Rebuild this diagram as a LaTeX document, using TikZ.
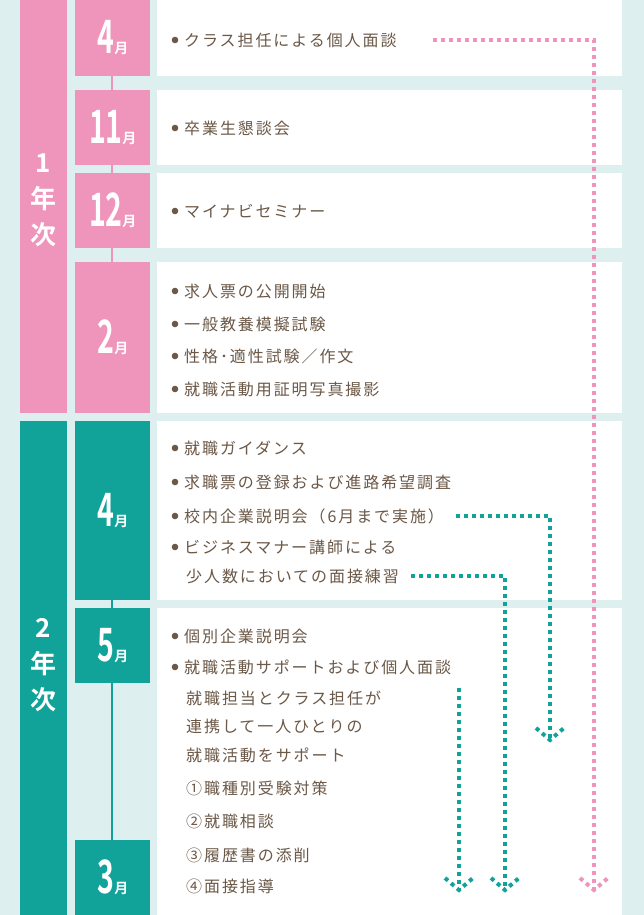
\documentclass[tikz,border=0pt]{standalone}
\usepackage{fontspec}
\setmainfont{Noto Sans CJK JP}[LetterSpace=12,BoldFont={Noto Sans CJK JP Bold}]
\usetikzlibrary{positioning}
\definecolor{bgmint}{HTML}{DDEFEE}
\definecolor{sakura}{HTML}{EF95BC}
\definecolor{teal}{HTML}{11A399}
\definecolor{brownish}{HTML}{6B5847}
\newcommand{\mon}[1]{{\bfseries\addfontfeatures{LetterSpace=-4}\fontsize{46}{46}\selectfont\scalebox{0.62}[1]{#1}\fontsize{14}{14}\selectfont 月}}
\newcommand{\dottedhead}[2]{\draw[#1] ([shift={(-14,-12)}]#2) -- (#2) -- ([shift={(14,-12)}]#2);}
\begin{document}
\begin{tikzpicture}[x=1pt,y=-1pt,
  itembox/.style={fill=white},
  item/.style={text=brownish,anchor=west,font=\fontsize{16}{16}\selectfont,inner sep=0pt},
  pinkdots/.style={sakura,line width=4pt,dash pattern=on 4pt off 4pt},
  tealdots/.style={teal,line width=4pt,dash pattern=on 4pt off 4pt},
  yearlbl/.style={text=white,font=\bfseries\fontsize{26}{36}\selectfont,align=center}]
\useasboundingbox (0,0) rectangle (644,915);
\fill[bgmint] (0,0) rectangle (644,915);

% year bars
\fill[sakura] (20,0) rectangle (67,413);
\fill[teal] (20,421) rectangle (67,915);
\node[yearlbl] (y1) at (43.5,200) {1\\年\\次};
\node[yearlbl] (y2) at (43.5,665) {2\\年\\次};

% thin links between months
\draw[sakura,line width=2pt] (112,0) -- (112,413);
\draw[teal,line width=2pt] (112,421) -- (112,915);

% month boxes
\foreach \a/\b/\col/\txt in {0/76/sakura/4,90/165/sakura/11,173/248/sakura/12,262/413/sakura/2,
  421/600/teal/4,608/683/teal/5,840/915/teal/3}{
  \fill[\col] (75,\a) rectangle (150,\b);
  \node[text=white] at (113,{(\a+\b)/2}) {\mon{\txt}};
}

% content boxes
\foreach \a/\b in {0/76,90/165,173/248,262/413,421/600,608/915}
  \fill[white] (157,\a) rectangle (622,\b);

% items
\foreach \y/\t [count=\i] in {40/クラス担任による個人面談,128/卒業生懇談会,211/マイナビセミナー,
  291/求人票の公開開始,324/一般教養模擬試験,356/性格･適性試験／作文,389/就職活動用証明写真撮影,
  448/就職ガイダンス,482/求職票の登録および進路希望調査,516/校内企業説明会（6月まで実施）,
  547/ビジネスマナー講師による,636/個別企業説明会,667/就職活動サポートおよび個人面談}{
  \fill[brownish] (175,\y) circle (3.3pt);
  \node[item] (it\i) at (184,\y) {\t};
}
\foreach \y/\t [count=\i] in {576/少人数においての面接練習,698/就職担当とクラス担任が,
  726/連携して一人ひとりの,755/就職活動をサポート,788/①職種別受験対策,821/②就職相談,
  855/③履歴書の添削,886/④面接指導}
  \node[item] (sub\i) at (186,\y) {\t};

% arrows
\coordinate (pend) at (594,890);
\draw[pinkdots] (433,40) -- (594,40) -- (pend);
\dottedhead{pinkdots}{pend}
\coordinate (t1end) at (550,740);
\draw[tealdots] (it10.east) ++(12,0) -- (550,516) -- (t1end);
\dottedhead{tealdots}{t1end}
\coordinate (t2end) at (505,890);
\draw[tealdots] (sub1.east) ++(12,0) -- (505,576) -- (t2end);
\dottedhead{tealdots}{t2end}
\coordinate (t3end) at (459,890);
\draw[tealdots] (459,688) -- (t3end);
\dottedhead{tealdots}{t3end}
\end{tikzpicture}
\end{document}
